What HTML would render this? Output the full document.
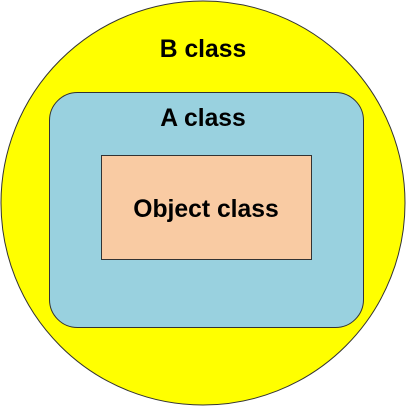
<!DOCTYPE html>
<html><head><meta charset="utf-8"><style>
html,body{margin:0;padding:0;background:#fff;}
svg{display:block;}
text{font-family:"Liberation Sans",Arial,sans-serif;font-weight:bold;font-size:24.7px;fill:#000;}
</style></head><body>
<svg width="406" height="406" viewBox="0 0 406 406" xmlns="http://www.w3.org/2000/svg">
<circle cx="203" cy="203" r="202" fill="#ffff00" stroke="#333" stroke-width="1"/>
<rect x="49.5" y="92.5" width="314" height="235" rx="28" ry="28" fill="#99d1df" stroke="#333" stroke-width="1"/>
<rect x="101.5" y="155.5" width="210" height="104" fill="#f9cba3" stroke="#333" stroke-width="1"/>
<text x="203" y="57" text-anchor="middle">B class</text>
<text x="203" y="126" text-anchor="middle">A class</text>
<text x="206" y="217" text-anchor="middle">Object class</text>
</svg>
</body></html>
